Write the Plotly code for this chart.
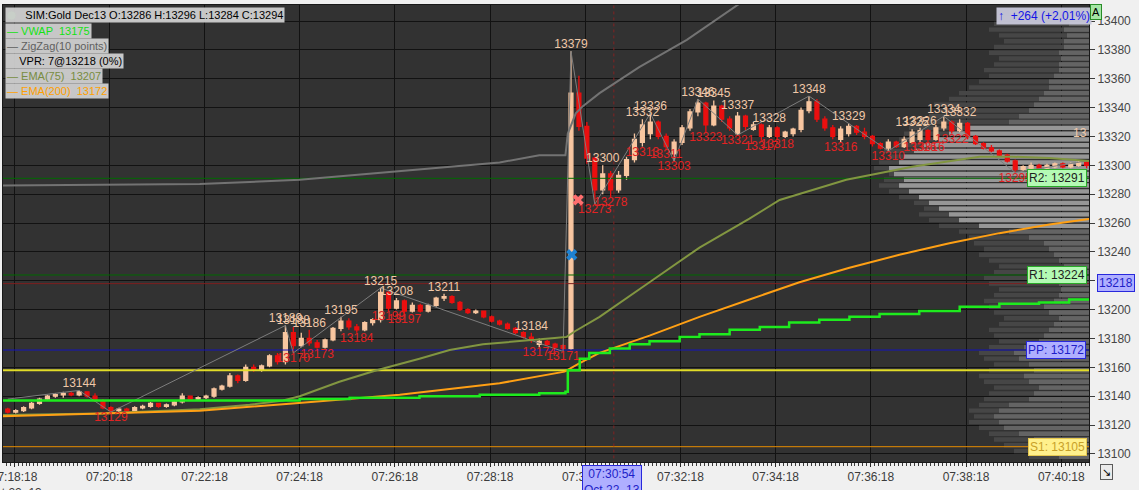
import plotly.graph_objects as go
from datetime import datetime, timedelta

# ---------------- data ----------------
BAR_START = datetime(2013, 10, 22, 7, 18, 10)
BAR_STEP_S = 10
DAY0 = datetime(2013, 10, 22, 7, 18, 0)

opens = [13131,13129,13130,13132,13135,13138,13140,13141,13142,13141,
         13143,13140,13137,13132,13130,13131,13130,13132,13133,13135,
         13133,13134,13136,13140,13138,13139,13140,13145,13147,13154,
         13151,13160,13158,13161,13168,13164,13184,13175,13180,13177,
         13174,13179,13187,13192,13188,13186,13191,13193,13212,13201,
         13206,13199,13203,13199,13203,13208,13209,13205,13200,13198,
         13199,13195,13192,13190,13187,13184,13181,13176,13178,13176,
         13175,13173,13350,13327,13305,13283,13294,13283,13293,13304,
         13316,13322,13330,13320,13308,13316,13326,13337,13343,13328,
         13341,13332,13322,13334,13325,13328,13320,13326,13320,13322,
         13325,13338,13344,13332,13326,13318,13322,13327,13323,13320,
         13315,13312,13316,13313,13316,13318,13324,13318,13326,13330,
         13324,13329,13320,13315,13312,13310,13307,13303,13297,13298,
         13300,13298,13299,13301,13299,13300,13302]
highs = [13132,13131,13133,13136,13139,13141,13142,13143,13143,13144,
         13143,13142,13138,13133,13132,13132,13133,13134,13136,13135,
         13135,13137,13142,13140,13140,13141,13146,13148,13156,13155,
         13162,13162,13162,13169,13170,13189,13188,13184,13186,13179,
         13180,13188,13195,13194,13190,13192,13194,13215,13213,13208,
         13207,13205,13204,13204,13209,13211,13210,13206,13201,13200,
         13199,13196,13193,13191,13188,13185,13184,13180,13179,13177,
         13176,13379,13362,13330,13306,13300,13296,13296,13306,13322,
         13332,13336,13331,13322,13318,13328,13339,13346,13344,13345,
         13342,13334,13337,13335,13330,13329,13328,13327,13324,13326,
         13340,13348,13346,13334,13328,13327,13329,13328,13326,13321,
         13316,13318,13317,13320,13325,13326,13325,13328,13334,13331,
         13332,13330,13321,13316,13314,13311,13308,13304,13300,13302,
         13301,13301,13302,13302,13302,13303,13303]
lows = [13128,13128,13129,13131,13134,13137,13139,13139,13140,13140,
        13139,13136,13131,13129,13129,13129,13130,13131,13132,13132,
        13132,13133,13135,13137,13137,13138,13139,13144,13146,13149,
        13150,13157,13157,13160,13162,13162,13170,13174,13175,13173,
        13173,13178,13185,13186,13184,13185,13189,13191,13199,13200,
        13197,13198,13198,13198,13202,13206,13204,13199,13197,13197,
        13194,13191,13189,13186,13183,13180,13177,13174,13175,13173,
        13171,13172,13324,13301,13273,13280,13278,13281,13290,13302,
        13313,13318,13318,13311,13303,13314,13324,13334,13323,13327,
        13330,13324,13321,13324,13324,13317,13319,13318,13319,13320,
        13323,13336,13330,13324,13318,13316,13320,13321,13318,13313,
        13311,13310,13312,13312,13315,13316,13316,13317,13324,13322,
        13323,13318,13314,13311,13309,13306,13302,13295,13296,13297,
        13297,13297,13298,13298,13298,13299,13298]
closes = [13129,13130,13132,13135,13138,13140,13141,13142,13141,13143,
          13140,13137,13132,13130,13131,13130,13132,13133,13135,13133,
          13134,13136,13140,13138,13139,13140,13145,13147,13154,13151,
          13160,13158,13161,13168,13164,13184,13175,13180,13177,13174,
          13179,13187,13192,13188,13186,13191,13193,13212,13201,13206,
          13199,13203,13199,13203,13208,13209,13205,13200,13198,13199,
          13195,13192,13190,13187,13184,13181,13179,13178,13176,13174,
          13173,13350,13327,13305,13283,13294,13283,13293,13304,13318,
          13328,13330,13320,13313,13316,13326,13337,13343,13328,13341,
          13332,13326,13334,13327,13328,13320,13326,13320,13323,13325,
          13338,13344,13332,13326,13320,13325,13327,13323,13320,13315,
          13312,13316,13313,13318,13323,13324,13318,13326,13330,13324,
          13329,13320,13315,13312,13310,13307,13303,13297,13299,13300,
          13298,13300,13301,13299,13301,13302,13300]

# swing labels (bar index, price)
high_idx = [9,35,36,38,42,47,49,55,66,71,75,80,81,87,89,92,96,101,106,114,115,118,120]
high_val = [13144,13189,13188,13186,13195,13215,13208,13211,13184,13379,13300,13332,13336,
            13346,13345,13337,13328,13348,13329,13325,13326,13334,13332]
low_idx = [13,36,39,44,48,50,67,70,74,76,80,83,84,88,92,95,97,105,111,115,116,119,127]
low_val = [13129,13170,13173,13184,13199,13197,13174,13171,13273,13278,13313,13311,13303,
           13323,13321,13317,13318,13316,13310,13316,13316,13322,13295]

# zigzag pivots (bar index, price)
zz_idx = [0,9,13,35,36,47,70,71,74,81,84,87,92,101,111,118,127,136]
zz_val = [13138,13144,13129,13189,13170,13215,13171,13379,13273,13336,13303,13346,13321,
          13348,13310,13334,13295,13303]

# indicator lines (seconds after 07:18:00, price)
ema75_t = [0,126,252,315,357,378,428,475,529,567,609,672,714,725,756,819,882,945,983,1067,1150,1235,1276,1323,1375]
ema75_v = [13127,13128,13131,13134,13137,13140,13150,13158,13166,13172,13176,13179,13181,13185,
           13195,13219,13243,13263,13276,13290,13299,13306,13306,13305,13303]
ema200_t = [0,126,252,369,504,630,712,731,756,819,882,945,1008,1071,1134,1197,1260,1323,1375]
ema200_v = [13126,13128,13130,13135,13141,13149,13157,13163,13170,13182,13195,13207,13219,
            13229,13238,13246,13253,13259,13263]
vwap_t = [0,378,441,529,605,680,713,716,731,743,769,794,819,857,882,920,958,995,1033,1071,
          1109,1159,1210,1260,1310,1348,1375]
vwap_v = [13137,13138,13139,13140,13141,13142,13143,13158,13166,13170,13173,13176,13178,13181,
          13183,13186,13188,13191,13193,13195,13197,13199,13202,13204,13205,13207,13208]
trail_t = [0,252,378,504,630,680,713,716,726,735,756,806,866,935]
trail_v = [13286,13287,13290,13296,13302,13307,13307,13322,13336,13341,13350,13368,13387,13413]

# signal markers (seconds after 07:18:00, price)
sell_t, sell_v = 729, 13276
buy_t, buy_v = 721, 13238

# levels
R2, R1, VPR, PP, YL, S1 = 13291, 13224, 13218, 13172, 13158, 13105
cursor_t = 774  # 07:30:54

# volume profile (bin centre price, back length, front length)
prof_price = [13098,13102,13106,13110,13114,13118,13122,13126,13130,13134,13138,13142,13146,
              13150,13154,13158,13162,13166,13170,13174,13178,13182,13186,13190,13194,13198,
              13202,13206,13210,13214,13218,13222,13226,13230,13234,13238,13242,13246,13250,
              13254,13258,13262,13266,13270,13274,13278,13282,13286,13290,13294,13298,13302,
              13306,13310,13314,13318,13322,13326,13330,13334,13338,13342,13346,13350,13354,
              13358,13362,13366,13370,13374,13378,13382,13386,13390,13394,13398,13402,13406]
prof_back = [60,75,85,95,100,110,120,115,120,110,105,100,95,105,110,100,95,105,110,100,90,95,
             100,90,85,95,100,105,95,90,100,105,95,90,100,110,105,115,120,130,150,160,170,165,
             175,190,200,210,205,200,215,210,200,205,195,190,185,180,170,160,150,155,140,130,
             120,110,100,105,95,90,100,95,85,90,100,95,85,80]
prof_front = [30,40,45,55,70,85,90,95,90,80,60,55,50,60,65,55,60,70,75,65,50,45,40,35,30,40,
              45,35,30,28,30,32,28,25,30,35,40,45,60,80,110,130,140,150,160,170,180,190,185,
              195,200,190,185,175,165,150,140,120,80,70,60,55,50,45,40,40,35,30,30,28,30,25,
              25,22,25,20,18,15]
VA_LOW, VA_HIGH = 13256, 13328

x_ticks_s = [18 + 120 * k for k in range(12)]
y_ticks = list(range(13100, 13401, 20))

# ---------------- build ----------------
FONT = "Liberation Sans"
TAN = "rgb(248,198,160)"
RED = "rgb(235,15,15)"

bar_times = [BAR_START + timedelta(seconds=BAR_STEP_S * i) for i in range(len(opens))]
def ts(s):
    return DAY0 + timedelta(seconds=s)

X0 = datetime(2013, 10, 22, 7, 18, 4)
X1 = datetime(2013, 10, 22, 7, 40, 53)
Y0, Y1 = 13094.4, 13411.1

fig = go.Figure()

# volume profile on hidden base axis (drawn beneath everything)
front_colors = ["rgb(150,150,150)" if VA_LOW <= p <= VA_HIGH else "rgb(100,100,100)" for p in prof_price]
fig.add_trace(go.Bar(x=prof_back, y=prof_price, orientation="h", width=3.0,
                     marker=dict(color="rgb(70,70,70)", line=dict(width=0)),
                     xaxis="x", yaxis="y", hoverinfo="skip"))
fig.add_trace(go.Bar(x=prof_front, y=prof_price, orientation="h", width=3.0,
                     marker=dict(color=front_colors, line=dict(width=0)),
                     xaxis="x", yaxis="y", hoverinfo="skip"))

def hline(v, color, width=1, dash="solid"):
    fig.add_trace(go.Scatter(x=[X0 - timedelta(seconds=30), X1 + timedelta(seconds=30)], y=[v, v],
                             mode="lines", line=dict(color=color, width=width, dash=dash),
                             xaxis="x2", yaxis="y", hoverinfo="skip"))

hline(R2, "rgb(0,105,0)")
hline(R1, "rgb(0,105,0)")
hline(VPR, "rgb(125,30,30)")
hline(PP, "rgb(20,20,190)")
hline(YL, "rgb(225,220,40)", 2)
hline(S1, "rgb(230,140,0)")

# cursor vertical
fig.add_trace(go.Scatter(x=[ts(cursor_t), ts(cursor_t)], y=[Y0 - 10, Y1 + 10], mode="lines",
                         line=dict(color="rgb(130,35,35)", width=1, dash="dot"),
                         xaxis="x2", yaxis="y", hoverinfo="skip"))

fig.add_trace(go.Scatter(x=[ts(t) for t in trail_t], y=trail_v, mode="lines",
                         line=dict(color="rgb(115,115,115)", width=2),
                         xaxis="x2", yaxis="y", hoverinfo="skip"))
fig.add_trace(go.Scatter(x=[bar_times[i] for i in zz_idx], y=zz_val, mode="lines",
                         line=dict(color="rgb(125,125,125)", width=1),
                         xaxis="x2", yaxis="y", hoverinfo="skip"))
fig.add_trace(go.Scatter(x=[ts(t) for t in ema75_t], y=ema75_v, mode="lines",
                         line=dict(color="rgb(130,150,65)", width=2),
                         xaxis="x2", yaxis="y", hoverinfo="skip"))
fig.add_trace(go.Scatter(x=[ts(t) for t in ema200_t], y=ema200_v, mode="lines",
                         line=dict(color="rgb(255,160,20)", width=2),
                         xaxis="x2", yaxis="y", hoverinfo="skip"))
fig.add_trace(go.Scatter(x=[ts(t) for t in vwap_t], y=vwap_v, mode="lines",
                         line=dict(color="rgb(30,235,30)", width=2.5, shape="hv"),
                         xaxis="x2", yaxis="y", hoverinfo="skip"))

fig.add_trace(go.Candlestick(x=bar_times, open=opens, high=highs, low=lows, close=closes,
                             increasing=dict(line=dict(color=TAN, width=1.3), fillcolor=TAN),
                             decreasing=dict(line=dict(color=RED, width=1.3), fillcolor=RED),
                             whiskerwidth=0, xaxis="x2", yaxis="y", hoverinfo="skip"))

fig.add_trace(go.Scatter(x=[bar_times[i] for i in high_idx], y=high_val, mode="text",
                         text=[str(v) for v in high_val], textposition="top center",
                         textfont=dict(family=FONT, size=12, color="rgb(240,200,168)"),
                         xaxis="x2", yaxis="y", hoverinfo="skip"))
fig.add_trace(go.Scatter(x=[bar_times[i] for i in low_idx], y=low_val, mode="text",
                         text=[str(v) for v in low_val], textposition="bottom center",
                         textfont=dict(family=FONT, size=12, color="rgb(225,35,35)"),
                         xaxis="x2", yaxis="y", hoverinfo="skip"))

fig.add_trace(go.Scatter(x=[ts(sell_t)], y=[sell_v], mode="markers",
                         marker=dict(symbol="x", size=10, color="rgb(255,110,110)", line=dict(width=0)),
                         xaxis="x2", yaxis="y", hoverinfo="skip"))
fig.add_trace(go.Scatter(x=[ts(buy_t)], y=[buy_v], mode="markers",
                         marker=dict(symbol="x", size=10, color="rgb(30,130,210)", line=dict(width=0)),
                         xaxis="x2", yaxis="y", hoverinfo="skip"))

# ---------------- layout ----------------
W, H = 1139, 490
ML, MR, MT, MB = 3, 50, 5, 28
PW, PH = W - ML - MR, H - MT - MB
def px(X):
    return (X - ML) / PW
def py(Y):
    return (H - MB - Y) / PH

tickvals = [ts(s) for s in x_ticks_s]
ticktext = [ts(s).strftime("%H:%M:%S") for s in x_ticks_s]
ticktext[0] = ticktext[0] + "<br>Oct 22, 13"

annotations = []
def ann(X, Y, text, color="black", bg=None, border=None, size=11, xanchor="left", yanchor="middle"):
    d = dict(x=px(X), y=py(Y), xref="paper", yref="paper", text=text, showarrow=False,
             xanchor=xanchor, yanchor=yanchor, font=dict(family=FONT, size=size, color=color),
             borderpad=1)
    if bg:
        d["bgcolor"] = bg
    if border:
        d["bordercolor"] = border
        d["borderwidth"] = 1
    annotations.append(d)

LBG = "rgba(208,208,208,0.95)"
ann(5, 15, "      SIM:Gold Dec13 O:13286 H:13296 L:13284 C:13294", "black", LBG)
ann(5, 31, "\u2014 VWAP  13175", "rgb(20,225,20)", LBG)
ann(5, 46, "\u2014 ZigZag(10 points)", "rgb(95,95,95)", LBG)
ann(5, 61, "    VPR: 7@13218 (0%)", "black", LBG)
ann(5, 76, "\u2014 EMA(75)  13207", "rgb(120,140,65)", LBG)
ann(5, 91, "\u2014 EMA(200)  13172", "rgb(255,160,0)", LBG)

ann(1044, 16, "<b>\u2191</b>  +264 (+2,01%)", "rgb(20,20,230)", "rgba(200,200,218,0.95)", size=12, xanchor="center")
ann(1096, 12, "A", "black", "rgb(165,230,165)", "rgb(40,140,40)", xanchor="center")
ann(1089, 133, "13", "rgb(240,200,168)", size=12, xanchor="right")

ann(1057, 178, "R2: 13291", "rgb(30,30,30)", "rgb(180,250,180)", "rgb(40,170,40)", size=12, xanchor="center")
ann(1057, 275, "R1: 13224", "rgb(30,30,30)", "rgb(180,250,180)", "rgb(40,170,40)", size=12, xanchor="center")
ann(1116, 283, "13218", "rgb(30,30,200)", "rgb(175,175,255)", "rgb(40,40,220)", size=12, xanchor="center")
ann(1056, 350, "PP: 13172", "rgb(30,30,200)", "rgb(175,175,255)", "rgb(40,40,220)", size=12, xanchor="center")
ann(1057, 447, "S1: 13105", "rgb(200,160,40)", "rgb(255,240,140)", "rgb(230,200,80)", size=12, xanchor="center")
ann(612, 465, "07:30:54<br>Oct 22, 13", "rgb(30,30,200)", "rgb(175,175,255)", "rgb(40,40,220)",
    size=12, xanchor="center", yanchor="top")
ann(1106, 472, "\u2198", "black", "rgb(235,235,235)", "rgb(90,90,90)", size=11, xanchor="center")

shapes = [dict(type="circle", xref="paper", yref="paper", x0=px(7), x1=px(16), y0=py(20), y1=py(11),
               fillcolor="rgb(60,190,60)", line=dict(color="rgb(20,70,20)", width=1))]

fig.update_layout(
    width=W, height=H, margin=dict(l=ML, r=MR, t=MT, b=MB, autoexpand=False),
    paper_bgcolor="rgb(240,240,240)", plot_bgcolor="rgb(50,50,50)",
    showlegend=False, barmode="overlay", hovermode=False,
    font=dict(family=FONT, size=12, color="rgb(60,60,60)"),
    xaxis=dict(range=[PW, 0], visible=False, showgrid=False, zeroline=False, fixedrange=True),
    xaxis2=dict(type="date", overlaying="x", anchor="y", side="bottom", range=[X0, X1],
                tickvals=tickvals, ticktext=ticktext, ticks="outside", ticklen=4,
                ticklabeloverflow="allow",
                tickcolor="rgb(40,40,40)", tickfont=dict(family=FONT, size=12, color="rgb(60,60,60)"),
                showgrid=True, gridcolor="rgb(18,18,18)", gridwidth=1,
                showline=True, linecolor="rgb(25,25,25)", mirror=True, zeroline=False,
                minor=dict(ticks="outside", ticklen=3, dtick=5000, tick0="2013-10-22 07:18:18",
                           tickcolor="rgb(60,60,60)", showgrid=False),
                rangeslider=dict(visible=False)),
    yaxis=dict(range=[Y0, Y1], side="right", tickvals=y_ticks, tickformat="d",
               ticks="outside", ticklen=5,
               tickcolor="rgb(60,60,60)", tickfont=dict(family=FONT, size=12, color="rgb(70,70,70)"),
               showgrid=True, gridcolor="rgb(18,18,18)", gridwidth=1, zeroline=False,
               showline=True, linecolor="rgb(25,25,25)", mirror=True),
    annotations=annotations, shapes=shapes,
)

fig.write_html("out.html", config={"displayModeBar": False},
               post_script="document.body.style.margin='0px';")
